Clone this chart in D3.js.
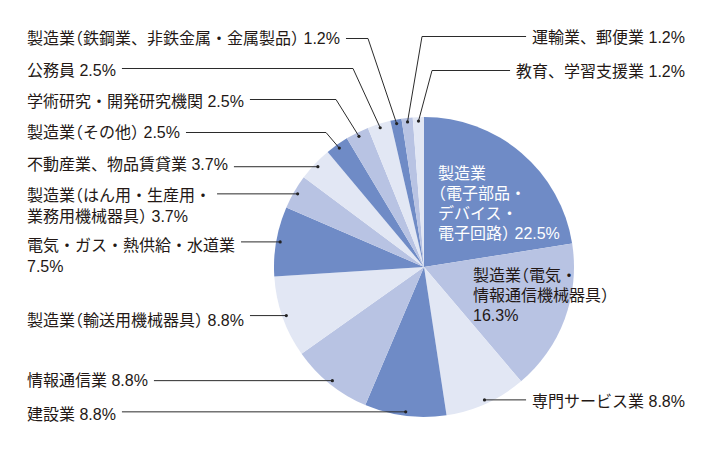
<!DOCTYPE html>
<html><head><meta charset="utf-8">
<script src="https://cdn.jsdelivr.net/npm/d3@7"></script>
<style>
body{margin:0;background:#fff}
#wrap{position:relative;width:720px;height:449px;overflow:hidden}
#c{position:absolute;left:0;top:0}
.lbl{position:absolute;white-space:nowrap;font-family:"Liberation Sans","Noto Sans CJK JP",sans-serif;font-size:16px;color:#231815}
.p{font-feature-settings:"halt"}
</style></head><body>
<div id="wrap"><svg id="c" width="720" height="449"></svg></div>
<script>
// ---- data ----
const categories = [
  "製造業（電子部品・デバイス・電子回路）",
  "製造業（電気・情報通信機械器具）",
  "専門サービス業",
  "建設業",
  "情報通信業",
  "製造業（輸送用機械器具）",
  "電気・ガス・熱供給・水道業",
  "製造業（はん用・生産用・業務用機械器具）",
  "不動産業、物品賃貸業",
  "製造業（その他）",
  "学術研究・開発研究機関",
  "公務員",
  "製造業（鉄鋼業、非鉄金属・金属製品）",
  "運輸業、郵便業",
  "教育、学習支援業"
];
const values = [22.5, 16.3, 8.8, 8.8, 8.8, 8.8, 7.5, 3.7, 3.7, 2.5, 2.5, 2.5, 1.2, 1.2, 1.2];
const labelText = [
  ["製造業", "（電子部品・", "デバイス・", "電子回路） 22.5%"],
  ["製造業（電気・", "情報通信機械器具）", "16.3%"],
  ["専門サービス業 8.8%"],
  ["建設業 8.8%"],
  ["情報通信業 8.8%"],
  ["製造業（輸送用機械器具） 8.8%"],
  ["電気・ガス・熱供給・水道業", "7.5%"],
  ["製造業（はん用・生産用・", "業務用機械器具） 3.7%"],
  ["不動産業、物品賃貸業 3.7%"],
  ["製造業（その他） 2.5%"],
  ["学術研究・開発研究機関 2.5%"],
  ["公務員 2.5%"],
  ["製造業（鉄鋼業、非鉄金属・金属製品） 1.2%"],
  ["運輸業、郵便業 1.2%"],
  ["教育、学習支援業 1.2%"]
];

// ---- layout / style ----
const W = 720, H = 449, cx = 424, cy = 267, R = 150, dotR = 146;
const colors = ["#6f8bc6", "#b8c3e3", "#e2e7f4"];
const layout = [
  {type:"inside", x:438, y:179, lh:20, color:"#ffffff"},
  {type:"inside", x:473, y:281, lh:20},
  {type:"right", x:685, y:407},
  {type:"left", x:27, y:420},
  {type:"left", x:27, y:386},
  {type:"left", x:27, y:326},
  {type:"left", x:27, y:251, lh:21},
  {type:"left", x:27, y:201, lh:21},
  {type:"left", x:27, y:170},
  {type:"left", x:27, y:138, ly:132.5, elbow:326},
  {type:"left", x:27, y:107, ly:99.5, elbow:336},
  {type:"left", x:27, y:76, ly:68.5, elbow:353},
  {type:"left", x:27, y:44, ly:38.5, elbow:368},
  {type:"right", x:685, y:43, ly:36.5, elbow:422},
  {type:"right", x:685, y:77, ly:70.5, elbow:432}
];

const svg = d3.select("#c");
const host = d3.select("#wrap");
const pie = d3.pie().sort(null).value(d => d).startAngle(0).endAngle(2 * Math.PI);
const arcs = pie(values);
const arc = d3.arc().innerRadius(0).outerRadius(R);
const color = d3.scaleOrdinal().domain(d3.range(values.length)).range(d3.range(values.length).map(i => colors[i % 3]));

const g = svg.append("g").attr("transform", `translate(${cx},${cy})`);
g.selectAll("path").data(arcs).join("path")
  .attr("d", arc)
  .attr("fill", (d, i) => color(i));

function addRuns(sel, str) {
  const parts = str.split(/([（）])/).filter(s => s.length);
  parts.forEach(p => {
    const t = sel.append("span").text(p);
    if (p === "（" || p === "）") t.attr("class", "p");
  });
}

const lg = svg.append("g");
arcs.forEach((a, i) => {
  const L = layout[i];
  const lh = L.lh || 20;
  const mid = (a.startAngle + a.endAngle) / 2;
  const dx = cx + dotR * Math.sin(mid), dy = cy - dotR * Math.cos(mid);

  const box = host.append("div").attr("class", "lbl")
    .style("line-height", lh + "px").style("top", "0px");
  if (L.color) box.style("color", L.color);
  if (L.type === "right") box.style("right", (W - L.x) + "px").style("text-align", "right");
  else box.style("left", L.x + "px");
  let firstSpan = null;
  labelText[i].forEach((s, k) => {
    const ln = box.append("div");
    const sp = ln.append("span");
    addRuns(sp, s);
    if (k === 0) firstSpan = sp;
  });
  const probe = box.select("div").append("span")
    .style("display", "inline-block").style("width", "0px").style("height", "0px")
    .style("vertical-align", "baseline");
  const off = probe.node().getBoundingClientRect().top - box.node().getBoundingClientRect().top;
  probe.remove();
  box.style("top", (L.y - off) + "px");

  if (L.type === "inside") return;
  const len = firstSpan.node().getBoundingClientRect().width;
  let sx = L.type === "left" ? L.x + len + 6 : L.x - len - 6;
  const pts = L.elbow != null
    ? [[sx, L.ly], [L.elbow, L.ly], [dx, dy]]
    : [[sx, dy], [dx, dy]];
  lg.append("path")
    .attr("d", d3.line()(pts))
    .attr("fill", "none").attr("stroke", "#2b2b2b").attr("stroke-width", 1);
  lg.append("circle").attr("cx", dx).attr("cy", dy).attr("r", 1.6).attr("fill", "#222");
});
</script>
</body></html>
